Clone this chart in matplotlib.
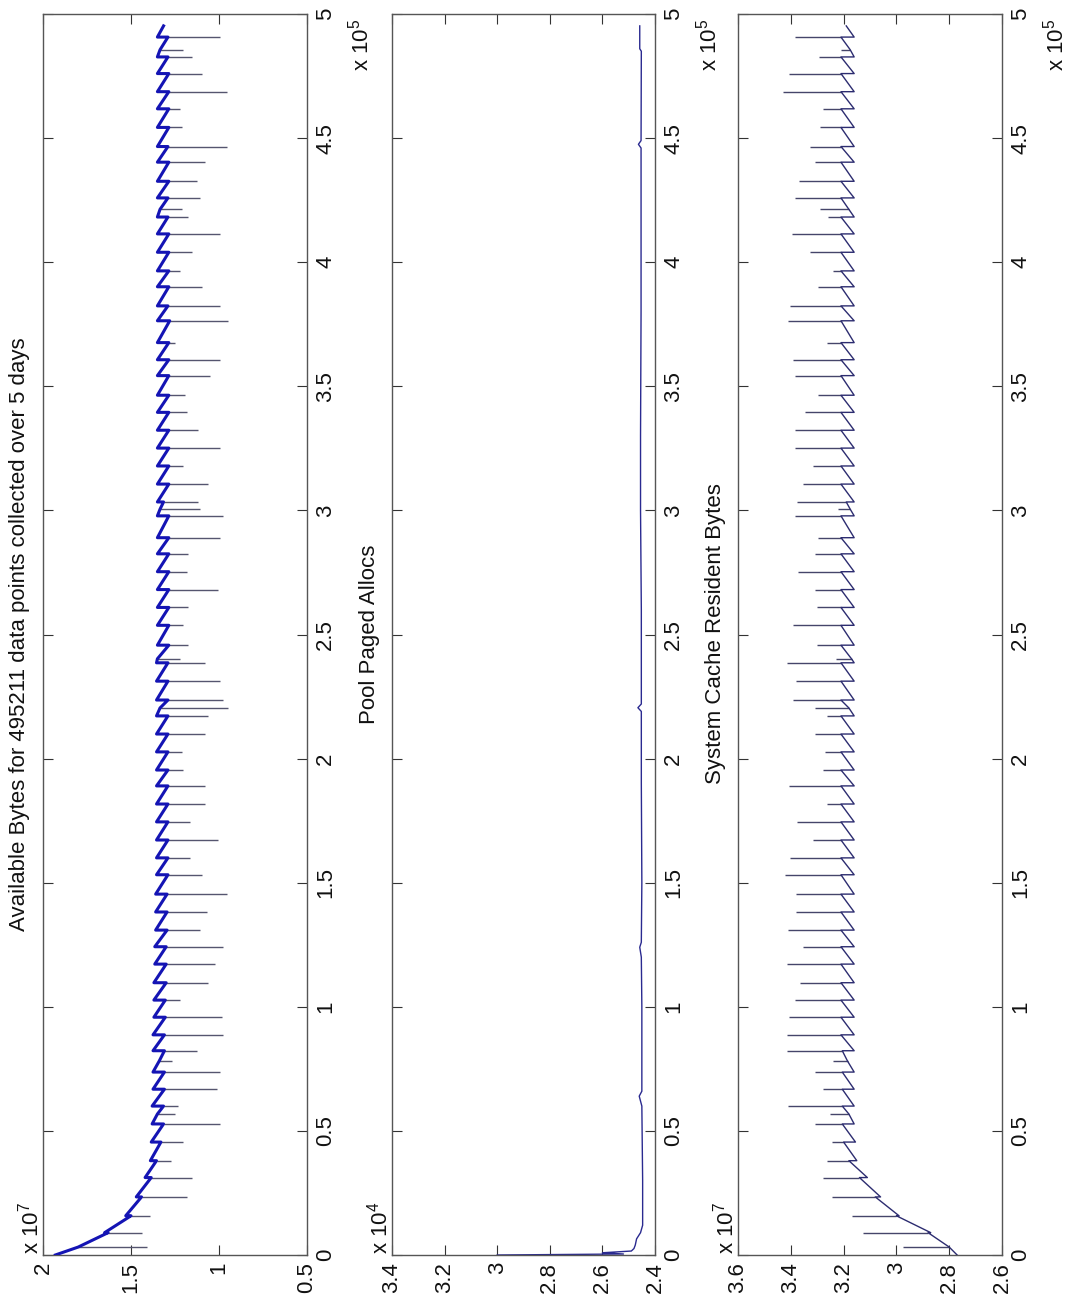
import matplotlib
matplotlib.use("Agg")
import matplotlib.pyplot as plt
import numpy as np

plt.rcParams["font.family"] = ["Liberation Sans", "DejaVu Sans"]
plt.rcParams["mathtext.fontset"] = "custom"
plt.rcParams["mathtext.rm"] = "Liberation Sans"

N_SAMPLES = 495211

# sample index of each working-set trim (reset) and allocation spike
event_samples = [
    3200, 9000, 15800, 23400, 31200, 38000, 45500, 52800, 56800, 60000,
    66800, 73700, 78100, 82300, 88700, 95800, 102700, 109700, 117200, 124200,
    130900, 138200, 145400, 153200, 160000, 167200, 174500, 181700, 189000, 195400,
    202700, 209900, 217200, 220400, 223600, 231200, 238600, 240200, 245700, 253700,
    260900, 268100, 275300, 282500, 289000, 297800, 300500, 303400, 310600, 317900,
    325100, 332300, 339500, 346400, 354300, 360700, 367600, 376400, 382400, 390100,
    396500, 404000, 411400, 418200, 421300, 425900, 432600, 440300, 446600, 454300,
    461800, 468700, 476000, 482700, 485600, 490700,
]

# Available Bytes (x 1e7): value just before each event, just after it, spike tip
avail_start, avail_end = 1.93, 1.315
avail_pre = [
    1.80, 1.63, 1.50, 1.44, 1.385, 1.355, 1.33, 1.315, 1.35, 1.315,
    1.31, 1.31, 1.34, 1.31, 1.31, 1.305, 1.305, 1.30, 1.30, 1.30,
    1.295, 1.295, 1.295, 1.29, 1.29, 1.29, 1.29, 1.29, 1.29, 1.29,
    1.29, 1.29, 1.29, 1.335, 1.29, 1.29, 1.29, 1.35, 1.285, 1.285,
    1.285, 1.285, 1.285, 1.285, 1.285, 1.285, 1.335, 1.315, 1.285, 1.285,
    1.285, 1.285, 1.285, 1.285, 1.285, 1.285, 1.285, 1.28, 1.29, 1.285,
    1.285, 1.285, 1.285, 1.29, 1.335, 1.29, 1.285, 1.285, 1.29, 1.285,
    1.285, 1.285, 1.285, 1.29, 1.335, 1.29,
]
avail_post = [
    1.80, 1.65, 1.53, 1.47, 1.42, 1.39, 1.385, 1.38, 1.35, 1.38,
    1.375, 1.375, 1.34, 1.375, 1.375, 1.37, 1.37, 1.37, 1.365, 1.365,
    1.36, 1.36, 1.36, 1.355, 1.355, 1.355, 1.355, 1.355, 1.355, 1.355,
    1.355, 1.355, 1.355, 1.335, 1.355, 1.355, 1.355, 1.35, 1.35, 1.35,
    1.35, 1.35, 1.35, 1.35, 1.35, 1.35, 1.335, 1.35, 1.35, 1.35,
    1.35, 1.35, 1.35, 1.35, 1.35, 1.35, 1.35, 1.35, 1.35, 1.35,
    1.35, 1.35, 1.35, 1.35, 1.335, 1.35, 1.35, 1.35, 1.35, 1.35,
    1.35, 1.35, 1.35, 1.35, 1.335, 1.35,
]
avail_spike = [
    1.41, 1.44, 1.39, 1.18, 1.155, 1.27, 1.203, 0.994, 1.25, 1.231,
    1.013, 0.994, 1.269, 1.127, 0.976, 0.985, 1.222, 1.061, 1.023, 0.976,
    1.108, 1.070, 0.956, 1.098, 1.165, 1.004, 1.165, 1.080, 1.080, 1.203,
    1.212, 1.080, 1.061, 0.947, 0.976, 0.994, 1.080, 1.222, 1.174, 1.203,
    1.174, 1.004, 1.184, 1.174, 0.994, 0.976, 1.108, 1.118, 1.061, 1.203,
    0.994, 1.118, 1.184, 1.193, 1.051, 0.994, 1.250, 0.947, 0.994, 1.098,
    1.222, 1.155, 0.994, 1.174, 1.212, 1.108, 1.127, 1.080, 0.956, 1.212,
    1.222, 0.956, 1.098, 1.155, 1.203, 0.994,
]

# Pool Paged Allocs (x 1e4)
pool_samples = [
    0, 400, 900, 1600, 2600, 4000, 6500, 9000, 12000, 30000,
    60000, 64000, 66000, 100000, 120000, 124000, 126000, 150000, 190000, 219000,
    220500, 222000, 260000, 300000, 330000, 380000, 420000, 446000, 447500, 449000,
    485000, 486000, 495211,
]
pool_values = [
    3.00, 2.52, 2.60, 2.49, 2.48, 2.475, 2.47, 2.455, 2.447, 2.447,
    2.45, 2.46, 2.45, 2.45, 2.452, 2.458, 2.452, 2.45, 2.452, 2.452,
    2.465, 2.452, 2.452, 2.455, 2.455, 2.453, 2.453, 2.453, 2.463, 2.453,
    2.452, 2.458, 2.458,
]

# System Cache Resident Bytes (x 1e7)
cache_start, cache_end = 2.77, 3.19
cache_pre = [
    2.80, 2.88, 3.00, 3.08, 3.14, 3.18, 3.20, 3.205, 3.18, 3.205,
    3.205, 3.205, 3.185, 3.205, 3.21, 3.21, 3.21, 3.21, 3.21, 3.21,
    3.21, 3.21, 3.21, 3.21, 3.21, 3.21, 3.21, 3.21, 3.21, 3.21,
    3.21, 3.21, 3.21, 3.18, 3.21, 3.21, 3.21, 3.17, 3.21, 3.21,
    3.21, 3.21, 3.21, 3.21, 3.21, 3.21, 3.175, 3.19, 3.21, 3.21,
    3.21, 3.21, 3.21, 3.21, 3.21, 3.21, 3.21, 3.21, 3.21, 3.21,
    3.21, 3.21, 3.21, 3.21, 3.18, 3.21, 3.21, 3.21, 3.21, 3.21,
    3.21, 3.21, 3.21, 3.21, 3.175, 3.21,
]
cache_post = [
    2.80, 2.87, 2.99, 3.06, 3.11, 3.15, 3.155, 3.16, 3.18, 3.16,
    3.16, 3.16, 3.185, 3.16, 3.16, 3.16, 3.16, 3.16, 3.16, 3.16,
    3.16, 3.16, 3.16, 3.16, 3.16, 3.16, 3.16, 3.16, 3.16, 3.16,
    3.16, 3.16, 3.16, 3.18, 3.16, 3.16, 3.16, 3.17, 3.16, 3.16,
    3.16, 3.16, 3.16, 3.16, 3.16, 3.16, 3.175, 3.16, 3.16, 3.16,
    3.16, 3.16, 3.16, 3.16, 3.16, 3.16, 3.16, 3.16, 3.16, 3.16,
    3.16, 3.16, 3.16, 3.16, 3.18, 3.16, 3.16, 3.16, 3.16, 3.16,
    3.16, 3.16, 3.16, 3.16, 3.175, 3.16,
]
cache_spike = [
    2.975, 3.126, 3.169, 3.245, 3.278, 3.264, 3.245, 3.308, 3.25, 3.409,
    3.277, 3.308, 3.24, 3.416, 3.416, 3.406, 3.384, 3.365, 3.416, 3.353,
    3.409, 3.380, 3.380, 3.422, 3.403, 3.315, 3.378, 3.264, 3.406, 3.277,
    3.270, 3.308, 3.264, 3.308, 3.390, 3.380, 3.413, 3.23, 3.302, 3.39,
    3.30, 3.308, 3.372, 3.308, 3.296, 3.384, 3.22, 3.378, 3.353, 3.315,
    3.384, 3.384, 3.346, 3.296, 3.384, 3.391, 3.264, 3.409, 3.403, 3.296,
    3.239, 3.327, 3.397, 3.258, 3.289, 3.384, 3.368, 3.308, 3.327, 3.289,
    3.277, 3.431, 3.406, 3.292, 3.21, 3.384,
]

sample_ticks = [0, 0.5, 1, 1.5, 2, 2.5, 3, 3.5, 4, 4.5, 5]

FIG_W, FIG_H = 1075, 1304
TICK_FS = 16


def sawtooth(start, pre, post, end):
    xs, ys = [0], [start]
    for s, a, b in zip(event_samples, pre, post):
        xs += [s, s]
        ys += [a, b]
    xs.append(N_SAMPLES)
    ys.append(end)
    return np.array(xs) / 1e5, np.array(ys)


def add_axes(fig, left_px, width_px):
    top_px, bottom_px = 14, 1255
    return fig.add_axes([left_px / FIG_W, 1 - bottom_px / FIG_H,
                         width_px / FIG_W, (bottom_px - top_px) / FIG_H])


def style(ax, lo, hi, vticks):
    # value axis runs right-to-left, sample index bottom-to-top
    ax.set_xlim(hi, lo)
    ax.set_ylim(0, 5)
    ax.set_xticks(vticks)
    ax.set_xticklabels(["%g" % t for t in vticks], rotation=90)
    ax.set_yticks(sample_ticks)
    ax.set_yticklabels(["%g" % t for t in sample_ticks], rotation=90, va="center")
    ax.tick_params(direction="in", length=7, width=0.8, color="#333333",
                   top=True, bottom=True, left=True, right=True,
                   labelleft=False, labelright=True, labelsize=TICK_FS,
                   labelcolor="#111111")
    ax.tick_params(axis="x", pad=5)
    ax.tick_params(axis="y", pad=6)
    for sp in ax.spines.values():
        sp.set_color("#555555")
        sp.set_linewidth(1.0)


def annotate(fig, left_px, width_px, title, exp_val):
    fy = lambda py: 1 - py / FIG_H
    fig.text((left_px - 23) / FIG_W, fy(634), title, rotation=90,
             ha="center", va="center", fontsize=16, color="#111111")
    fig.text((left_px - 12) / FIG_W, fy(1254), r"x 10$^{%d}$" % exp_val,
             rotation=90, ha="center", va="bottom", fontsize=16, color="#111111")
    fig.text((left_px + width_px + 54) / FIG_W, fy(19), r"x 10$^{5}$",
             rotation=90, ha="center", va="top", fontsize=16, color="#111111")


fig = plt.figure(figsize=(FIG_W / 100, FIG_H / 100), dpi=100)
ev = np.array(event_samples) / 1e5

# Available Bytes
ax1 = add_axes(fig, 43, 264)
ax1.hlines(ev, avail_pre, avail_spike, color="#55556f", lw=1.0, zorder=2)
x, y = sawtooth(avail_start, avail_pre, avail_post, avail_end)
ax1.plot(y, x, color="#1414b4", lw=2.2, zorder=3)
style(ax1, 0.5, 2.0, [0.5, 1, 1.5, 2])
annotate(fig, 43, 264, "Available Bytes for 495211 data points collected over 5 days", 7)

# Pool Paged Allocs
ax2 = add_axes(fig, 392, 263)
ax2.plot(pool_values, np.array(pool_samples) / 1e5, color="#2a2a90", lw=1.0)
style(ax2, 2.4, 3.4, [2.4, 2.6, 2.8, 3.0, 3.2, 3.4])
annotate(fig, 392, 263, "Pool Paged Allocs", 4)

# System Cache Resident Bytes
ax3 = add_axes(fig, 738, 264)
ax3.hlines(ev, cache_pre, cache_spike, color="#45456a", lw=1.0, zorder=2)
x, y = sawtooth(cache_start, cache_pre, cache_post, cache_end)
ax3.plot(y, x, color="#2c2c70", lw=1.0, zorder=3)
style(ax3, 2.6, 3.6, [2.6, 2.8, 3.0, 3.2, 3.4, 3.6])
annotate(fig, 738, 264, "System Cache Resident Bytes", 7)

fig.savefig("out.png", dpi=100)
